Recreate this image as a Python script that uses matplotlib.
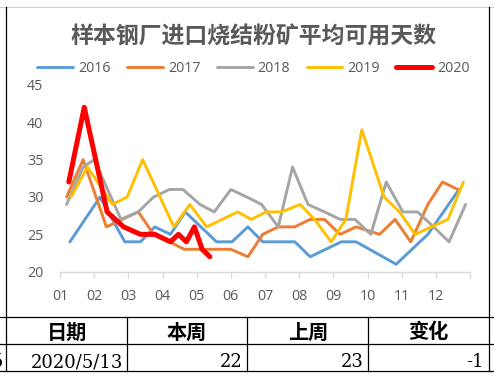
#!/usr/bin/env python

# Import libraries
import numpy as np
import pandas as pd
import matplotlib
matplotlib.use("Agg")
import matplotlib.pyplot as plt
from matplotlib.lines import Line2D

# Data: sampling dates (MM-DD) and available days
dates2016 = ['01-10', '02-06', '02-27', '03-12', '03-25', '04-08', '04-21',
             '05-19', '06-02', '06-16', '06-29', '07-28', '08-11', '09-08',
             '09-21', '10-27', '11-24', '12-22']
days2016 = [24, 30, 24, 24, 26, 25, 28, 24, 24, 26, 24, 24, 22, 24, 24, 21,
            25, 31]

dates2017 = ['01-07', '01-22', '02-11', '02-24', '03-10', '03-24', '04-07',
             '04-20', '05-04', '05-18', '06-01', '06-16', '06-29', '07-13',
             '07-28', '08-11', '08-24', '09-07', '09-21', '10-12', '10-26',
             '11-09', '11-24', '12-07', '12-21']
days2017 = [30, 35, 26, 27, 28, 25, 24, 23, 23, 23, 23, 22, 25, 26, 26, 27,
            27, 25, 26, 25, 27, 24, 29, 32, 31]

dates2018 = ['01-07', '01-22', '02-01', '02-23', '03-10', '03-24', '04-07',
             '04-19', '05-04', '05-17', '06-01', '06-15', '06-28', '07-13',
             '07-26', '08-09', '08-24', '09-07', '09-20', '10-04', '10-18',
             '11-02', '11-15', '11-29', '12-13', '12-28']
days2018 = [29, 34, 35, 27, 28, 30, 31, 31, 29, 28, 31, 30, 29, 26, 34, 29,
            28, 27, 27, 25, 32, 28, 28, 26, 24, 29]

dates2019 = ['01-11', '01-26', '02-16', '02-28', '03-14', '04-11', '04-25',
             '05-10', '06-07', '06-19', '07-02', '07-16', '08-02', '08-15',
             '08-30', '09-12', '09-26', '10-16', '10-30', '11-13', '11-27',
             '12-12', '12-26']
days2019 = [30, 34, 29, 30, 35, 26, 29, 26, 28, 27, 28, 28, 29, 27, 24, 27,
            39, 30, 28, 25, 26, 27, 32]

dates2020 = ['01-09', '01-23', '02-12', '02-26', '03-12', '03-25', '04-08',
             '04-15', '04-22', '04-29', '05-06', '05-13']
days2020 = [32, 42, 28, 26, 25, 25, 24, 25, 24, 26, 23, 22]

months = ['01', '02', '03', '04', '05', '06', '07', '08', '09', '10', '11', '12']

title = '样本钢厂进口烧结粉矿平均可用天数'
tableHeader = ['日期', '本周', '上周', '变化']
tableRow = ['2020/5/13', '22', '23', '-1']

series = [('2016', dates2016, days2016, '#5B9BD5', 2.1),
          ('2017', dates2017, days2017, '#ED7D31', 2.1),
          ('2018', dates2018, days2018, '#A5A5A5', 2.1),
          ('2019', dates2019, days2019, '#FFC000', 2.1),
          ('2020', dates2020, days2020, '#FF0000', 3.6)]

W, H = 494, 384
grey = '#595959'
latin = 'Open Sans'
cjk = ['Noto Sans CJK SC', 'DejaVu Sans']
fontsize = 10.3


def fx(x):
    return x / W


def fy(y):
    return 1 - y / H


# Position inside the year, in months (0 = Jan 1)
def month_pos(year, dates):
    d = pd.to_datetime(['{}-{}'.format(year, s) for s in dates])
    return np.asarray((d.month - 1) + (d.day - 1) / d.days_in_month)


fig = plt.figure(figsize=(W / 100, H / 100), dpi=100)
ax = fig.add_axes([fx(60), fy(271.7), fx(470) - fx(60), fy(84.9) - fy(271.7)])

handles = []
for name, dts, vals, color, lw in series:
    h, = ax.plot(month_pos(int(name), dts), vals, color=color, linewidth=lw,
                 solid_joinstyle='round', solid_capstyle='round', label=name)
    handles.append(h)

ax.set_xlim(0, 12)
ax.set_ylim(20, 45)
ax.set_yticks(np.arange(20, 46, 5))
ax.set_xticks(np.arange(0, 13))
ax.set_xticklabels(months + [''])
for s in ['left', 'right', 'top']:
    ax.spines[s].set_visible(False)
ax.spines['bottom'].set_color('#D9D9D9')
ax.spines['bottom'].set_linewidth(1.0)
ax.tick_params(axis='y', length=0, pad=12, labelsize=fontsize,
               labelcolor=grey)
ax.tick_params(axis='x', length=4.5, width=1.0, color='#D9D9D9',
               direction='out', pad=8, labelsize=fontsize, labelcolor=grey)
for lab in ax.get_xticklabels() + ax.get_yticklabels():
    lab.set_family(latin)

# Legend
leg = fig.legend(handles, [s[0] for s in series], ncol=5, loc='center',
                 bbox_to_anchor=(fx(253.5), fy(69)), frameon=False,
                 handlelength=2.5, handletextpad=0.35, columnspacing=1.15,
                 prop={'family': latin, 'size': fontsize})
for t in leg.get_texts():
    t.set_color(grey)

# Title
fig.text(fx(253.3), fy(37.5), title, ha='center', va='center',
         fontsize=16.5, color=grey, family=cjk, weight='bold')

# Frame of the sheet cells around the chart and the table below
fig.add_artist(Line2D([0, 1], [fy(7.3), fy(7.3)], color='#D0D0D0', lw=0.8))
for x in [6, 489]:
    fig.add_artist(Line2D([fx(x), fx(x)], [fy(7.3), fy(371)],
                          color='black', lw=0.9))
for y in [317.3, 344.3, 371]:
    fig.add_artist(Line2D([0, 1], [fy(y), fy(y)], color='black', lw=0.9))
for x in [126.7, 247.3, 368.3]:
    fig.add_artist(Line2D([fx(x), fx(x)], [fy(317.3), fy(371)],
                          color='black', lw=0.9))

colCenters = [66.5, 187, 308, 428.5]
colRights = [122.7, 242.7, 363.3, 483.3]
for cx, txt in zip(colCenters, tableHeader):
    fig.text(fx(cx), fy(332), txt, ha='center', va='center', fontsize=14.5,
             family=cjk, weight='bold', color='black')
for rx, txt in zip(colRights, tableRow):
    fig.text(fx(rx), fy(367.3), txt, ha='right', va='baseline', fontsize=13,
             family='DejaVu Serif', color='black')
# cut-off value from the neighbouring column
fig.text(fx(2.7), fy(367.3), '5', ha='right', va='baseline', fontsize=13,
         family='DejaVu Serif', color='black')

plt.savefig('out.png', dpi=100)
